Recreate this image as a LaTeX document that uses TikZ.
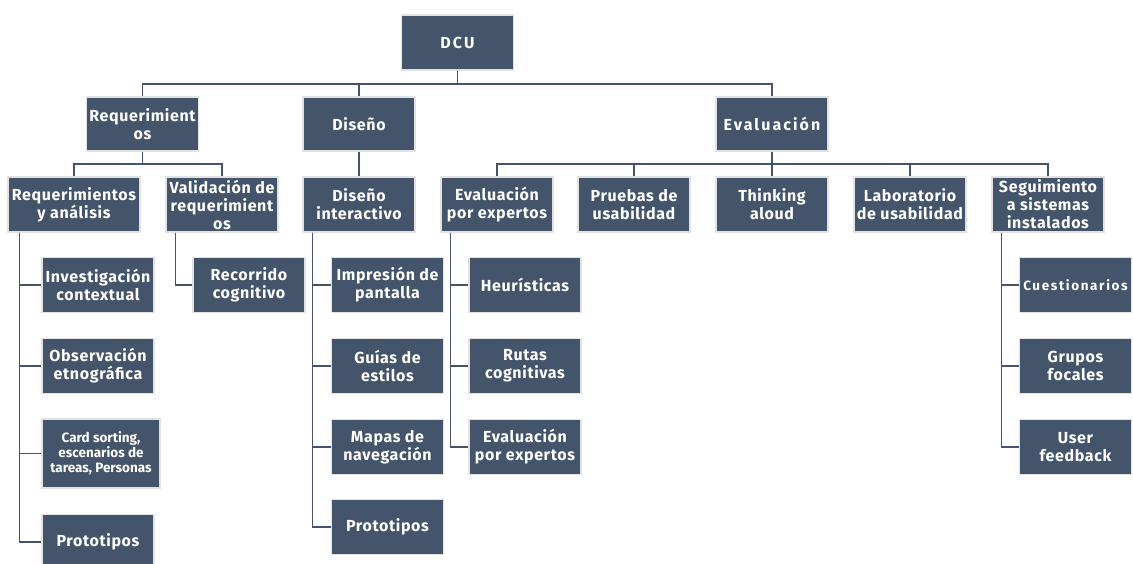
\documentclass[tikz,border=0pt]{standalone}
\usepackage{fontspec}
\setmainfont{Fira Sans}
\usetikzlibrary{calc}
\definecolor{dcuBox}{HTML}{44546A}
\definecolor{dcuEdge}{HTML}{E2E2E2}
\tikzset{
  box/.style={rectangle, fill=dcuBox, draw=dcuEdge, line width=1.2pt, text=white,
    align=center, minimum width=112pt, minimum height=55pt, inner sep=1pt,
    font=\bfseries\fontsize{16}{18}\selectfont\addfontfeature{LetterSpace=4}},
  spaced/.style={font=\bfseries\fontsize{16}{18}\selectfont\addfontfeature{LetterSpace=13}},
  link/.style={draw=dcuBox, line width=1.8pt},
}

\begin{document}
\begin{tikzpicture}[x=1pt,y=-1pt]
  \useasboundingbox (0,0) rectangle (1133,563);

  % ---- top levels ----
  \node[box, spaced] (dcu) at (457.5,42.5) {DCU};
  \node[box, minimum height=54pt] (req) at (142.5,124) {Requerimient\\os};
  \node[box, minimum height=54pt] (dis) at (359,124) {Diseño};
  \node[box, minimum height=54pt, spaced] (eva) at (772,124) {Evaluación};

  \node[box, minimum width=132pt] (ra) at (74,204.5) {Requerimientos\\y análisis};
  \node[box] (vr) at (222,204.5) {Validación de\\requerimient\\os};
  \node[box] (di) at (359,204.5) {Diseño\\interactivo};
  \node[box] (ee) at (497,204.5) {Evaluación\\por expertos};
  \node[box] (pu) at (634,204.5) {Pruebas de\\usabilidad};
  \node[box] (ta) at (772,204.5) {Thinking\\aloud};
  \node[box] (lu) at (910,204.5) {Laboratorio\\de usabilidad};
  \node[box] (ss) at (1048,204.5) {Seguimiento\\a sistemas\\instalados};

  \draw[link] (dcu.south) -- ++(0,13) coordinate (b0);
  \foreach \n in {req, dis, eva}
    \draw[link] (b0) -| (\n.north);
  \draw[link] (req.south) -- ++(0,12) coordinate (b1);
  \foreach \n in {ra, vr}
    \draw[link] (b1) -| (\n.north);
  \draw[link] (dis) -- (di);
  \draw[link] (eva.south) -- ++(0,12) coordinate (b2);
  \foreach \n in {ee, pu, ta, lu, ss}
    \draw[link] (b2) -| (\n.north);

  % ---- leaves ----
  \node[box] (ra1) at (98,285) {Investigación\\contextual};
  \node[box] (ra2) at (98,366) {Observación\\etnográfica};
  \node[box, minimum width=118pt, minimum height=69pt,
    font=\bfseries\fontsize{13.5}{15}\selectfont] (ra3) at (101,453.5)
    {Card sorting,\\escenarios de\\tareas, Personas};
  \node[box] (ra4) at (98,542) {Prototipos};
  \foreach \i in {1,...,4}
    \draw[link] ([xshift=12pt]ra.south west) |- (ra\i.west);

  \node[box] (vr1) at (249,285) {Recorrido\\cognitivo};
  \draw[link] ([xshift=10pt]vr.south west) |- (vr1.west);

  \foreach \i/\y/\t in {1/285/{Impresión de\\pantalla}, 2/366/{Guías de\\estilos},
      3/447/{Mapas de\\navegación}, 4/527/Prototipos} {
    \node[box] (di\i) at (387.5,\y) {\t};
    \draw[link] ([xshift=10pt]di.south west) |- (di\i.west);
  }

  \foreach \i/\y/\t in {1/285/Heurísticas, 2/366/{Rutas\\cognitivas},
      3/447/{Evaluación\\por expertos}} {
    \node[box] (ee\i) at (525,\y) {\t};
    \draw[link] ([xshift=10pt]ee.south west) |- (ee\i.west);
  }

  \node[box, font=\bfseries\fontsize{13.5}{15}\selectfont\addfontfeature{LetterSpace=12}]
    (ss1) at (1075.5,285) {Cuestionarios};
  \node[box] (ss2) at (1075.5,366) {Grupos\\focales};
  \node[box] (ss3) at (1075.5,447) {User\\feedback};
  \foreach \i in {1,...,3}
    \draw[link] ([xshift=10pt]ss.south west) |- (ss\i.west);
\end{tikzpicture}
\end{document}
